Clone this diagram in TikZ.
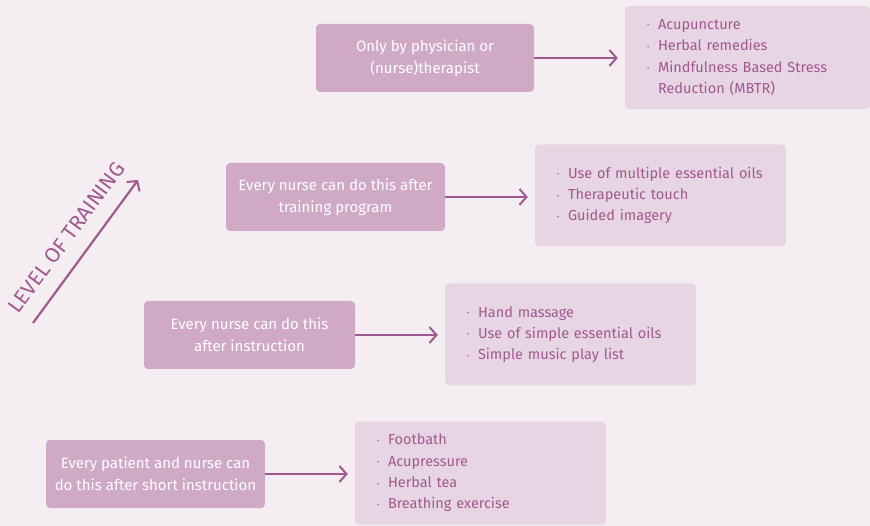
\documentclass[tikz,border=0pt]{standalone}
\usepackage{fontspec}
\setmainfont{Fira Sans}
\usetikzlibrary{arrows.meta}

\definecolor{bgpink}{HTML}{F4EEF3}
\definecolor{levelbox}{HTML}{CFA9C6}
\definecolor{listbox}{HTML}{E8D5E3}
\definecolor{plum}{HTML}{A0588F}

\tikzset{
    level/.style={fill=levelbox, rounded corners=4pt, text=white, align=center,
        minimum height=68pt, font=\fontsize{15}{22}\selectfont},
    list/.style={fill=listbox, rounded corners=4pt, text=plum, align=left,
        inner xsep=22pt, minimum height=103pt, font=\fontsize{14.5}{21.3}\selectfont},
    link/.style={draw=plum, line width=2.2pt, -{Straight Barb[length=7pt,width=16pt,line width=2pt]}},
}
\newcommand{\itm}[1]{\mbox{\makebox[11pt][l]{\raisebox{1.5pt}{\scriptsize\textbullet}}#1}}

\begin{document}
\begin{tikzpicture}[x=1pt,y=-1pt]

    \fill[bgpink] (0,0) rectangle (870,526);
    \useasboundingbox (0,0) rectangle (870,526);

    % level of training
    \node[level, minimum width=218pt] (l1) at (425,58) {Only by physician or\\(nurse)therapist};
    \node[level, minimum width=219pt] (l2) at (335.5,197) {Every nurse can do this after\\training program};
    \node[level, minimum width=211pt] (l3) at (249.5,335) {Every nurse can do this\\after instruction};
    \node[level, minimum width=219pt] (l4) at (155.5,474) {Every patient and nurse can\\do this after short instruction};

    % therapies
    \node[list, minimum width=245pt, text width=201pt] (r1) at (747.5,57.5)
        {\itm{Acupuncture}\\\itm{Herbal remedies}\\\itm{Mindfulness Based Stress}\\\hspace*{11pt}Reduction (MBTR)};
    \node[list, minimum width=251pt, text width=207pt, minimum height=102pt] (r2) at (660.5,195.5)
        {\itm{Use of multiple essential oils}\\\itm{Therapeutic touch}\\\itm{Guided imagery}};
    \node[list, minimum width=251pt, text width=207pt, minimum height=102pt] (r3) at (570.5,334.5)
        {\itm{Hand massage}\\\itm{Use of simple essential oils}\\\itm{Simple music play list}};
    \node[list, minimum width=251pt, text width=207pt] (r4) at (480.5,473)
        {\itm{Footbath}\\\itm{Acupressure}\\\itm{Herbal tea}\\\itm{Breathing exercise}};

    \foreach \i in {1,...,4}
        \draw[link, shorten >=7pt] (l\i.east) -- (l\i.east -| r\i.west);

    % diagonal axis
    \coordinate (lo) at (33,323);
    \coordinate (hi) at (138,180);
    \draw[link] (lo) -- node[sloped, above=15pt, inner sep=0pt, text=plum,
        font=\fontsize{21}{21}\selectfont] (axis) {LEVEL OF TRAINING} (hi);

\end{tikzpicture}
\end{document}
